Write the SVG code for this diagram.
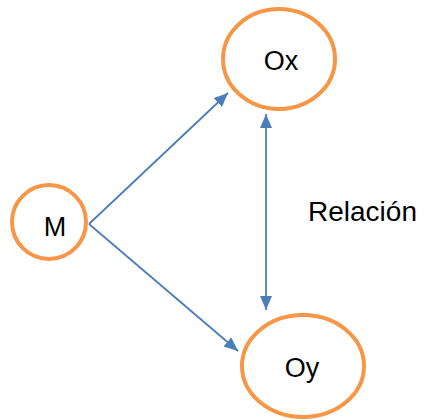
<svg xmlns="http://www.w3.org/2000/svg" width="424" height="420" viewBox="0 0 424 420">
<style>
.node{fill:#fff;stroke:#F79646;stroke-width:4}
.lbl{font-family:"Liberation Sans",Arial,sans-serif;font-size:27px;fill:#000;text-anchor:middle}
.edge{stroke:#4A7EBB;stroke-width:1.8;fill:none}
</style>
<defs>
<marker id="ah" viewBox="0 0 10 10" refX="10" refY="5" markerWidth="14" markerHeight="12" markerUnits="userSpaceOnUse" orient="auto-start-reverse" preserveAspectRatio="none">
<path d="M0,0 L10,5 L0,10 z" fill="#4A7EBB"/>
</marker>
</defs>
<rect width="424" height="420" fill="#fff"/>
<g id="connectors">
<line class="edge" x1="89" y1="224" x2="228" y2="93" marker-end="url(#ah)"/>
<line class="edge" x1="89" y1="224" x2="238" y2="351" marker-end="url(#ah)"/>
<line class="edge" x1="266" y1="114" x2="266" y2="310" marker-start="url(#ah)" marker-end="url(#ah)"/>
</g>
<g id="M">
<circle class="node" cx="49" cy="222" r="37"/>
<text class="lbl" x="55" y="236">M</text>
</g>
<g id="Ox">
<ellipse class="node" cx="279" cy="59" rx="56" ry="50"/>
<text class="lbl" x="281" y="70">Ox</text>
</g>
<g id="Oy">
<ellipse class="node" cx="303" cy="366" rx="61" ry="51"/>
<text class="lbl" x="302" y="377">Oy</text>
</g>
<text x="308" y="221" style="font-family:'Liberation Sans',Arial,sans-serif;font-size:28px;fill:#000">Relación</text>
</svg>
